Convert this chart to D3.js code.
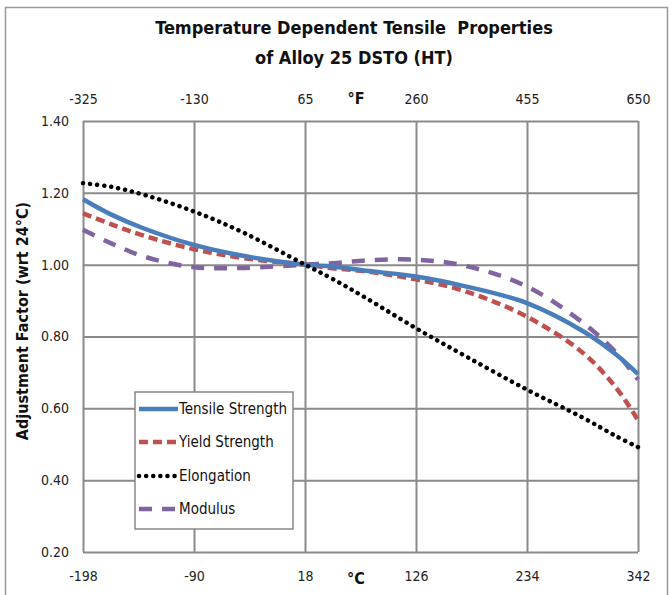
<!DOCTYPE html>
<html><head><meta charset="utf-8">
<script src="https://cdn.jsdelivr.net/npm/d3@7"></script>
<style>
body{margin:0;background:#fff;}
svg{display:block;}
text{font-family:"Liberation Sans Narrow","DejaVu Sans Condensed","Arial Narrow",sans-serif;}
</style></head>
<body><svg id="c" width="672" height="595"></svg>
<script>
const tempC = [-198,-171,-138,-90,-41,18,45,78,126,175,234,289,321,342];
const tensile = [1.182,1.140,1.100,1.055,1.024,1.000,0.995,0.983,0.967,0.939,0.893,0.814,0.749,0.695];
const yieldS  = [1.143,1.113,1.080,1.043,1.018,1.000,0.990,0.981,0.959,0.925,0.855,0.753,0.656,0.567];
const elong   = [1.227,1.217,1.194,1.148,1.088,1.000,0.960,0.906,0.823,0.744,0.652,0.573,0.522,0.492];
const modulus = [1.097,1.060,1.022,0.993,0.991,1.000,1.004,1.012,1.014,0.996,0.939,0.837,0.754,0.680];
const cTicks = [-198,-90,18,126,234,342];
const fTicks = [-325,-130,65,260,455,650];
const yTicks = [0.2,0.4,0.6,0.8,1.0,1.2,1.4];
const seriesNames = ["Tensile Strength","Yield Strength","Elongation","Modulus"];
const titleLines = ["Temperature Dependent Tensile  Properties","of Alloy 25 DSTO (HT)"];

const svg = d3.select("#c");
const L=83,R=638,T=121,B=552;
const x = d3.scaleLinear().domain([-198,342]).range([L,R]);
const xF = d3.scaleLinear().domain([-325,650]).range([L,R]);
const y = d3.scaleLinear().domain([0.2,1.4]).range([B,T]);
const grid = "#8a8a8a";

// outer border
svg.append("path").attr("d",`M5.5,600 V7.5 H667.5 V600`).attr("fill","none").attr("stroke","#999").attr("stroke-width",1.5);

// title
titleLines.forEach((t,i)=>svg.append("text").attr("x",354).attr("y",34+i*30).attr("text-anchor","middle")
  .attr("font-size",18).attr("font-weight","bold").attr("fill","#111").style("white-space","pre").text(t));

// horizontal grid + y labels
const ya = svg.append("g").attr("transform",`translate(${L},0)`)
  .call(d3.axisLeft(y).tickValues(yTicks).tickFormat(d3.format(".2f")).tickSize(-(R-L)).tickPadding(14));
ya.select(".domain").remove();
ya.selectAll("line").attr("stroke",grid).attr("stroke-width",2);
ya.selectAll("text").attr("font-size",14).attr("fill","#222");

// vertical grid + bottom labels
const xa = svg.append("g").attr("transform",`translate(0,${B})`)
  .call(d3.axisBottom(x).tickValues(cTicks).tickFormat(d=>String(d)).tickSize(-(B-T)).tickPadding(19));
xa.select(".domain").remove();
xa.selectAll("line").attr("stroke",grid).attr("stroke-width",2);
xa.selectAll("text").attr("font-size",14).attr("fill","#222");

// top labels (F)
const xt = svg.append("g").attr("transform",`translate(0,${T})`)
  .call(d3.axisTop(xF).tickValues(fTicks).tickFormat(d=>String(d)).tickSize(0).tickPadding(17));
xt.select(".domain").remove();
xt.selectAll("text").attr("font-size",14).attr("fill","#222");

svg.append("text").attr("x",356).attr("y",104).attr("text-anchor","middle").attr("font-size",16).attr("font-weight","bold").attr("fill","#111").text("°F");
svg.append("text").attr("x",356).attr("y",584).attr("text-anchor","middle").attr("font-size",16).attr("font-weight","bold").attr("fill","#111").text("°C");

// y title
svg.append("text").attr("transform","translate(28,321) rotate(-90)").attr("text-anchor","middle")
  .attr("font-size",16).attr("font-weight","bold").attr("fill","#111").text("Adjustment Factor (wrt 24°C)");

const styles = [
  {color:"#4a7ebb",dash:null,w:4.5,cap:"butt"},
  {color:"#c0504d",dash:"9,5",w:4.5,cap:"butt"},
  {color:"#000000",dash:"0.1,7",w:4.5,cap:"round"},
  {color:"#8064a2",dash:"13,10",w:4.5,cap:"butt"}
];
const data = [tensile,yieldS,elong,modulus];
const line = d3.line().x(d=>x(d[0])).y(d=>y(d[1])).curve(d3.curveCatmullRom.alpha(0.5));
[3,1,0,2].forEach(i=>{
  svg.append("path").datum(tempC.map((c,j)=>[c,data[i][j]]))
    .attr("d",line).attr("fill","none").attr("stroke",styles[i].color).attr("stroke-width",styles[i].w)
    .attr("stroke-dasharray",styles[i].dash).attr("stroke-linecap",styles[i].cap);
});

// legend
const lg = svg.append("g");
lg.append("rect").attr("x",135).attr("y",392).attr("width",158).attr("height",137).attr("fill","#fff").attr("stroke","#888").attr("stroke-width",1.5);
const ly = [409,442,476,509];
seriesNames.forEach((n,i)=>{
  lg.append("line").attr("x1",139).attr("x2",178).attr("y1",ly[i]).attr("y2",ly[i])
    .attr("stroke",styles[i].color).attr("stroke-width",styles[i].w).attr("stroke-dasharray",styles[i].dash).attr("stroke-linecap",styles[i].cap);
  lg.append("text").attr("x",179).attr("y",ly[i]).attr("dy","0.35em").attr("font-size",15).attr("fill","#111").text(n);
});
</script></body></html>
